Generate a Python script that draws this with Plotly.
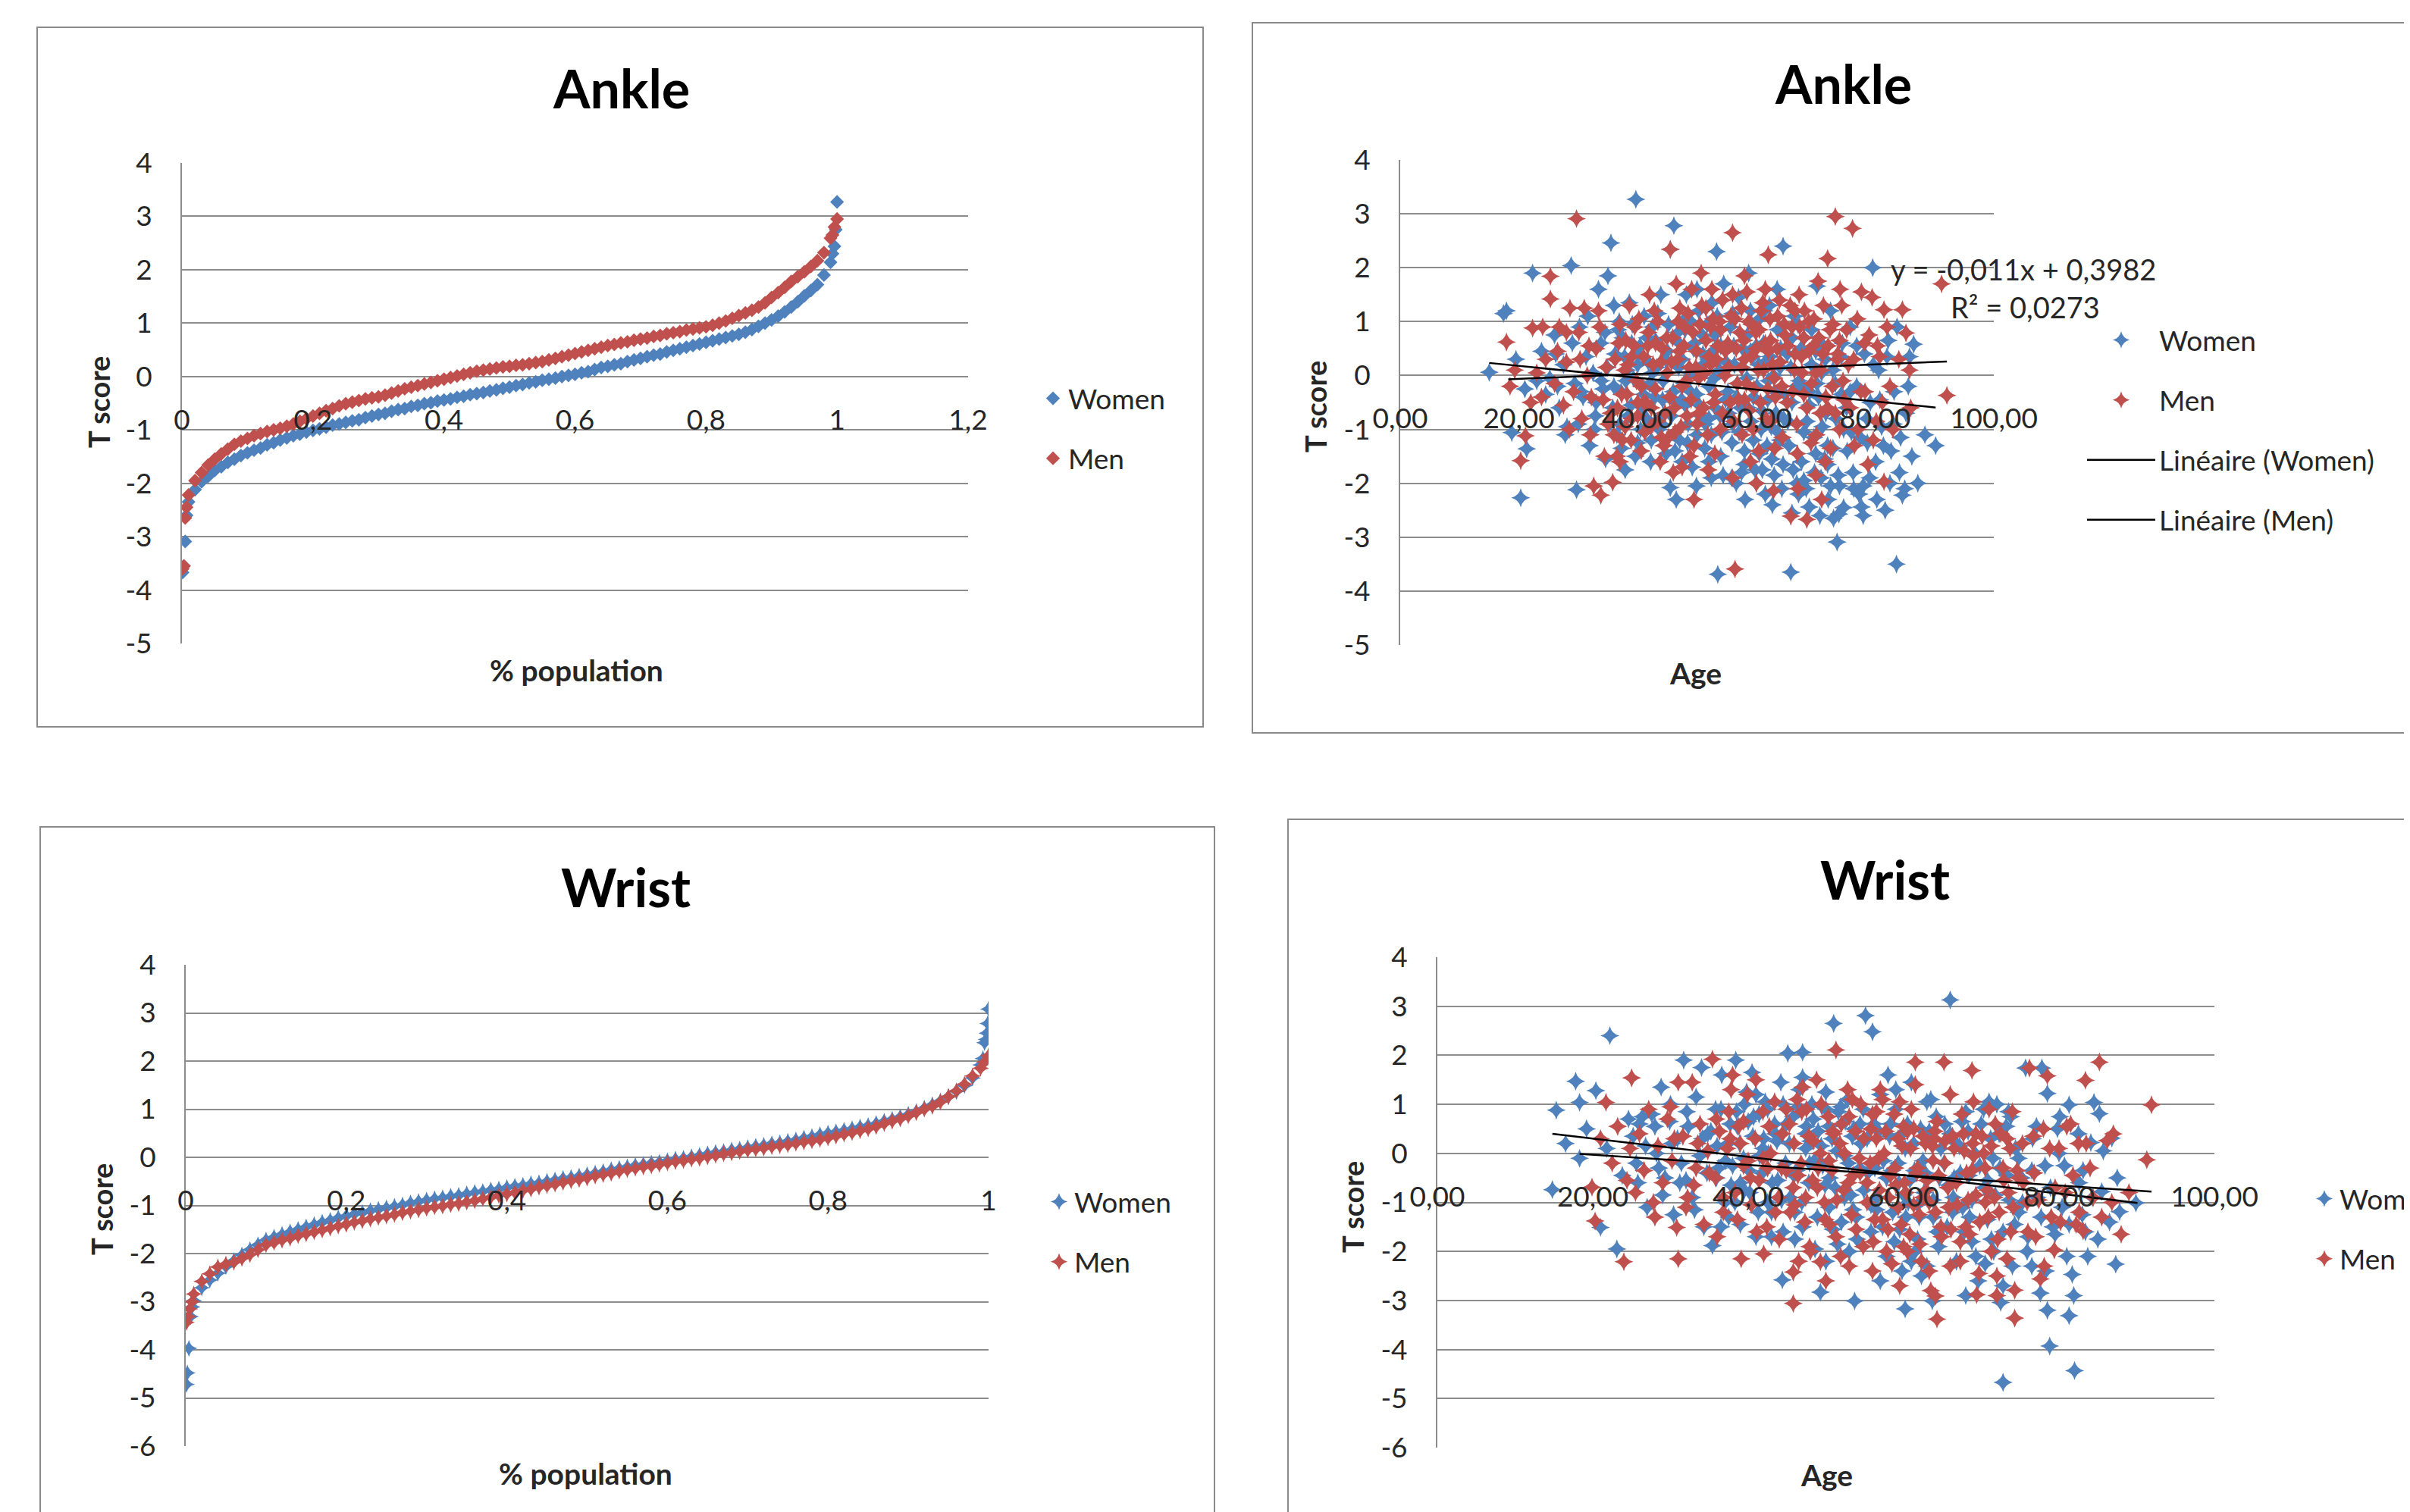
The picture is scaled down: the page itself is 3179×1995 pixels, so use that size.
import plotly.graph_objects as go

W, H = 3179, 1995
BLUE = "#4F81BD"
RED = "#C0504D"
GRID = "#8C8C8C"
TXT = "#262626"
FONT = "Lato, 'Open Sans', sans-serif"

# ---------------- data ----------------
LEGEND_NAMES = ["Women", "Men", "Linéaire (Women)", "Linéaire (Men)"]
TITLES = ["Ankle", "Ankle", "Wrist", "Wrist"]

# % population grid for the sorted-score curves
PCT = [0.01, 0.02, 0.03, 0.04, 0.05, 0.06, 0.07, 0.08, 0.09, 0.10,
       0.11, 0.12, 0.13, 0.14, 0.15, 0.16, 0.17, 0.18, 0.19, 0.20,
       0.21, 0.22, 0.23, 0.24, 0.25, 0.26, 0.27, 0.28, 0.29, 0.30,
       0.31, 0.32, 0.33, 0.34, 0.35, 0.36, 0.37, 0.38, 0.39, 0.40,
       0.41, 0.42, 0.43, 0.44, 0.45, 0.46, 0.47, 0.48, 0.49, 0.50,
       0.51, 0.52, 0.53, 0.54, 0.55, 0.56, 0.57, 0.58, 0.59, 0.60,
       0.61, 0.62, 0.63, 0.64, 0.65, 0.66, 0.67, 0.68, 0.69, 0.70,
       0.71, 0.72, 0.73, 0.74, 0.75, 0.76, 0.77, 0.78, 0.79, 0.80,
       0.81, 0.82, 0.83, 0.84, 0.85, 0.86, 0.87, 0.88, 0.89, 0.90,
       0.91, 0.92, 0.93, 0.94, 0.95, 0.96, 0.97, 0.98, 0.99]

# Ankle, sorted T scores (women)
ANKLE_W_LOW = [(0.001, -3.67), (0.003, -3.55), (0.005, -3.09), (0.007, -2.60)]
ANKLE_W_MID = [-2.35, -2.12, -1.97, -1.87, -1.76, -1.69, -1.61, -1.55, -1.48, -1.43,
               -1.38, -1.34, -1.28, -1.24, -1.19, -1.15, -1.11, -1.08, -1.04, -1.01,
               -0.98, -0.95, -0.91, -0.89, -0.86, -0.83, -0.81, -0.77, -0.74, -0.71,
               -0.69, -0.65, -0.62, -0.60, -0.56, -0.54, -0.51, -0.49, -0.46, -0.44,
               -0.42, -0.39, -0.37, -0.34, -0.32, -0.30, -0.27, -0.25, -0.22, -0.20,
               -0.17, -0.15, -0.12, -0.10, -0.07, -0.05, -0.03, 0.00, 0.02, 0.04,
               0.07, 0.09, 0.13, 0.17, 0.19, 0.22, 0.24, 0.28, 0.31, 0.34,
               0.37, 0.40, 0.42, 0.46, 0.49, 0.52, 0.55, 0.58, 0.61, 0.64,
               0.67, 0.70, 0.73, 0.76, 0.79, 0.83, 0.88, 0.94, 1.00, 1.06,
               1.13, 1.21, 1.30, 1.40, 1.51, 1.61, 1.72, 1.90, 2.14]
ANKLE_W_HIGH = [(0.993, 2.30), (0.996, 2.44), (0.998, 2.75), (1.0, 3.27)]

# Ankle, sorted T scores (men)
ANKLE_M_LOW = [(0.001, -3.60), (0.003, -3.55), (0.005, -2.65), (0.007, -2.45)]
ANKLE_M_MID = [-2.22, -1.95, -1.80, -1.66, -1.55, -1.45, -1.36, -1.27, -1.21, -1.16,
               -1.11, -1.07, -1.03, -1.00, -0.97, -0.93, -0.89, -0.84, -0.79, -0.74,
               -0.69, -0.64, -0.60, -0.55, -0.51, -0.48, -0.45, -0.42, -0.40, -0.38,
               -0.35, -0.31, -0.27, -0.23, -0.20, -0.17, -0.14, -0.11, -0.08, -0.05,
               -0.02, 0.01, 0.04, 0.07, 0.10, 0.12, 0.14, 0.16, 0.18, 0.19,
               0.21, 0.22, 0.24, 0.26, 0.28, 0.31, 0.34, 0.37, 0.40, 0.43,
               0.46, 0.49, 0.52, 0.55, 0.58, 0.60, 0.63, 0.65, 0.68, 0.70,
               0.72, 0.75, 0.77, 0.80, 0.82, 0.84, 0.87, 0.89, 0.91, 0.93,
               0.96, 1.00, 1.04, 1.09, 1.14, 1.19, 1.24, 1.30, 1.38, 1.48,
               1.57, 1.67, 1.78, 1.87, 1.96, 2.06, 2.17, 2.32, 2.59]
ANKLE_M_HIGH = [(0.993, 2.65), (0.996, 2.80), (1.0, 2.95)]

# Wrist, sorted T scores (women)
WRIST_W_LOW = [(0.001, -4.72), (0.002, -4.48), (0.004, -3.97), (0.006, -3.31), (0.008, -3.11)]
WRIST_W_MID = [-2.98, -2.71, -2.55, -2.41, -2.27, -2.15, -2.03, -1.92, -1.82, -1.72,
               -1.66, -1.60, -1.55, -1.50, -1.45, -1.40, -1.35, -1.31, -1.26, -1.22,
               -1.18, -1.15, -1.11, -1.08, -1.05, -1.02, -0.99, -0.95, -0.92, -0.89,
               -0.86, -0.84, -0.81, -0.79, -0.76, -0.73, -0.71, -0.68, -0.66, -0.63,
               -0.60, -0.58, -0.55, -0.53, -0.50, -0.47, -0.44, -0.42, -0.39, -0.36,
               -0.33, -0.30, -0.26, -0.23, -0.20, -0.17, -0.15, -0.12, -0.10, -0.07,
               -0.04, -0.02, 0.01, 0.04, 0.07, 0.10, 0.12, 0.15, 0.17, 0.20,
               0.23, 0.25, 0.28, 0.30, 0.33, 0.36, 0.40, 0.43, 0.47, 0.50,
               0.53, 0.56, 0.59, 0.63, 0.66, 0.70, 0.75, 0.79, 0.84, 0.89,
               0.95, 1.02, 1.09, 1.17, 1.26, 1.37, 1.49, 1.65, 1.92]
WRIST_W_HIGH = [(0.993, 2.05), (0.995, 2.38), (0.997, 2.45), (0.998, 2.58), (0.999, 2.78), (1.0, 3.08)]

# Wrist, sorted T scores (men)
WRIST_M_LOW = [(0.001, -3.43), (0.003, -3.31), (0.005, -3.15), (0.008, -3.00)]
WRIST_M_MID = [-2.84, -2.58, -2.42, -2.28, -2.22, -2.18, -2.10, -2.02, -1.92, -1.82,
               -1.77, -1.72, -1.68, -1.63, -1.59, -1.55, -1.51, -1.47, -1.43, -1.39,
               -1.35, -1.32, -1.28, -1.25, -1.22, -1.19, -1.15, -1.12, -1.09, -1.06,
               -1.03, -1.01, -0.98, -0.96, -0.93, -0.90, -0.86, -0.83, -0.79, -0.76,
               -0.73, -0.69, -0.66, -0.62, -0.59, -0.56, -0.52, -0.49, -0.46, -0.43,
               -0.39, -0.36, -0.33, -0.29, -0.26, -0.23, -0.20, -0.18, -0.15, -0.12,
               -0.09, -0.07, -0.04, -0.02, 0.01, 0.04, 0.07, 0.09, 0.12, 0.15,
               0.17, 0.19, 0.22, 0.24, 0.26, 0.29, 0.32, 0.34, 0.37, 0.40,
               0.44, 0.48, 0.51, 0.55, 0.59, 0.64, 0.70, 0.75, 0.80, 0.86,
               0.93, 1.00, 1.06, 1.15, 1.26, 1.38, 1.52, 1.69, 1.85]
WRIST_M_HIGH = [(0.995, 1.98), (1.0, 2.11)]

# Ankle T score vs age (age, T score)
ANKLE_AGE_W = [
    (15.0, 0.06), (17.4, 1.15), (17.9, 1.20), (18.8, -1.06), (19.5, 0.30), (20.3, -2.27), (21.0, -0.25),
    (21.3, -1.36), (22.3, 1.90), (23.0, -0.10), (23.8, 0.45), (24.5, -0.35),
    (25.2, -0.05), (26.0, 0.75), (26.8, -0.60), (27.5, 0.20), (28.1, -0.95), (28.8, 2.04), (29.4, -0.15),
    (29.7, -2.12), (30.2, 0.90), (30.8, -0.40), (31.3, 0.35), (31.9, -1.30), (32.5, 0.05), (32.9, -0.75),
    (33.4, 1.60), (33.8, 0.60), (34.2, -0.25), (34.6, -1.55), (35.0, 1.85), (35.5, 2.46), (34.9, 0.15),
    (26.5, -0.20), (30.0, -0.90), (33.0, -0.50),
    (35.8, -0.60), (36.2, 0.40), (36.5, -1.10), (36.9, 1.00), (37.2, -0.30), (37.5, 0.70), (37.9, -1.75),
    (38.2, 0.10), (38.6, 1.35), (38.9, -0.55), (39.3, -0.05), (39.7, 3.27), (40.0, -1.25), (40.4, 0.55),
    (40.8, -0.20), (41.1, 1.10), (41.5, -0.80), (41.8, 0.25), (42.2, -1.60), (42.5, 0.90), (42.9, -0.40),
    (43.2, 0.15), (43.6, -1.00), (43.9, 1.50), (44.3, -0.10), (44.6, -0.70), (45.0, 0.45), (45.5, 2.34),
    (44.8, -1.45), (39.0, 0.60), (37.0, -0.90), (41.0, -0.35), (43.0, 0.65), (36.0, 1.30), (40.0, 0.20),
    (42.0, -0.15),
    (45.5, -2.08), (46.1, 2.78), (46.4, -0.50), (46.8, 0.80), (47.1, -1.20), (47.5, 0.30), (47.8, -0.15),
    (48.2, 1.50), (48.5, -0.90), (48.9, 0.05), (49.2, -1.70), (49.6, 0.60), (49.9, -0.35), (50.3, 1.20),
    (50.6, -0.75), (51.0, 0.20), (51.3, -1.35), (51.7, 0.95), (52.0, -0.20), (52.4, -1.90), (52.7, 0.45),
    (53.1, -0.60), (53.3, 2.30), (53.5, -3.69), (53.8, 0.10), (54.2, -1.05), (54.5, 1.70), (54.8, -0.45),
    (46.0, -0.30), (47.0, 0.60), (48.0, -0.55), (49.0, 1.00), (50.0, -1.10), (51.0, 0.40), (52.0, -0.80),
    (53.0, 0.75), (54.0, -1.50), (50.5, 0.00), (47.5, -1.60), (52.5, 1.35),
    (55.2, -0.30), (55.6, 0.90), (55.9, -1.25), (56.3, 0.20), (56.6, -2.00), (57.0, 1.45), (57.3, -0.60),
    (57.7, 0.50), (58.0, -1.40), (58.4, -0.05), (58.7, 1.90), (59.1, -0.85), (59.4, 0.35), (59.8, -1.75),
    (60.1, -0.20), (60.5, 1.05), (60.8, -1.00), (61.2, 0.60), (61.5, -2.20), (61.9, -0.45), (62.2, 1.30),
    (62.6, -1.55), (62.9, 0.00), (63.3, -0.70), (63.6, 0.85), (64.0, -1.20), (64.5, 2.40), (64.3, -2.10),
    (64.8, -0.35), (56.0, -0.90), (57.5, -1.80), (58.5, 0.75), (59.5, -0.40), (60.5, -1.45), (61.5, 0.25),
    (62.5, -0.95), (63.5, 1.60), (64.5, -1.65), (60.0, 0.55), (56.8, -0.15),
    (65.2, 0.40), (65.8, -3.65), (65.5, -1.30), (66.0, -0.50), (66.4, 1.10), (66.8, -2.00), (67.2, -0.10),
    (67.6, -1.60), (68.0, 0.70), (68.5, -0.85), (68.9, -2.44), (69.3, 0.20), (69.7, -1.15), (70.2, 1.66),
    (70.5, -0.40), (70.9, -1.90), (71.3, 0.55), (71.7, -0.70), (72.1, -2.30), (72.5, 1.20), (72.9, -1.35),
    (73.3, -0.15), (73.6, -3.09), (73.9, -2.57), (74.3, 0.35), (74.7, -1.00), (66.0, -2.55), (67.0, 0.95),
    (68.0, -1.95), (69.0, -0.30), (70.0, -1.45), (71.0, 0.05), (72.0, -1.65), (74.0, -2.05),
    (75.2, -0.60), (75.8, 0.90), (76.3, -1.80), (76.9, -0.20), (77.3, -2.20), (77.7, -2.44), (78.2, 0.40),
    (78.7, -1.25), (79.2, -0.50), (79.6, 2.00), (80.1, -1.60), (80.6, 0.10), (81.1, -0.95), (81.7, -2.50),
    (82.2, 0.65), (82.7, -1.40), (83.2, -0.30), (83.6, -3.50), (84.1, -1.80), (84.6, -2.22), (76.0, -1.05),
    (78.0, -2.05),
    (85.2, -0.70), (85.8, 0.35), (86.5, 0.58), (87.2, -2.00), (88.4, -1.10), (90.2, -1.30)]
ANKLE_AGE_W_MORE = [
    (26.2, 0.40), (27.8, -1.10), (29.0, 0.60), (30.5, -0.30), (31.6, 1.10), (32.7, -1.00), (33.9, -0.10),
    (34.5, 0.80),
    (35.3, -0.90), (36.0, -0.20), (36.7, 0.85), (37.3, -1.35), (37.8, 0.35), (38.4, -0.75), (39.1, 0.95),
    (39.6, -1.50), (40.2, 0.40), (40.9, -0.60), (41.6, 0.70), (42.3, -1.20), (42.8, -0.25), (43.4, 1.15),
    (44.0, -0.90), (44.7, 0.30), (38.0, -0.10), (40.5, -1.00), (42.5, 0.05), (44.2, -0.45),
    (45.2, 0.95), (45.7, -0.75), (46.3, -1.40), (46.9, 0.15), (47.4, -0.45), (47.9, 1.05), (48.4, -1.25),
    (48.9, -0.30), (49.4, 0.50), (49.9, -2.05), (50.4, -0.55), (50.9, 0.75), (51.4, -0.90), (51.9, 0.30),
    (52.4, -1.10), (52.9, -0.05), (53.4, 1.10), (53.9, -0.75), (54.4, -1.85), (54.9, 0.25), (46.5, -2.30),
    (48.0, 0.85), (50.0, 1.60), (52.0, -1.60), (54.0, 0.55),
    (55.3, -0.70), (55.8, -1.90), (56.2, 0.55), (56.7, -0.40), (57.1, -1.05), (57.6, 0.15), (58.1, -2.30),
    (58.6, -0.60), (59.0, 0.45), (59.5, -1.20), (60.0, -2.00), (60.4, 0.20), (60.9, -0.65), (61.3, 1.20),
    (61.8, -1.30), (62.3, 0.35), (62.7, -2.40), (63.1, -0.30), (63.6, -1.05), (64.1, 0.50), (64.6, -0.80),
    (56.0, 1.15), (58.0, -1.65), (59.0, 1.20), (61.0, -1.75), (62.0, -0.10), (63.0, -1.85), (64.0, 0.15),
    (65.3, -0.85), (65.8, 0.15), (66.2, -1.75), (66.7, -0.20), (67.1, -2.20), (67.5, 0.50), (68.0, -1.05),
    (68.4, -2.10), (68.9, -0.55), (69.3, 0.85), (69.8, -1.80), (70.2, -0.15), (70.7, -2.60), (71.1, -0.95),
    (71.6, 0.30), (72.0, -1.30), (72.5, -2.05), (72.9, 0.10), (73.4, -0.80), (73.8, -1.85), (74.3, -0.35),
    (74.7, -2.45), (66.0, 0.70), (68.0, -0.25), (70.0, 0.45), (71.5, -1.55), (73.0, -2.65), (74.5, 0.60),
    (75.3, -1.40), (75.8, -0.30), (76.4, -2.10), (76.9, 0.55), (77.5, -1.15), (78.0, -2.60), (78.6, -0.80),
    (79.1, -1.90), (79.7, 0.20), (80.3, -2.30), (80.8, -0.45), (81.4, -1.30), (82.0, 0.35), (82.5, -2.00),
    (83.1, -0.90), (83.7, 0.90), (84.3, -1.15), (85.0, -2.10), (85.6, -0.20), (86.2, -1.50)]

ANKLE_AGE_M = [
    (17.9, 0.62), (18.5, -0.20), (19.3, 0.10), (20.3, -1.58), (21.1, -1.12), (22.3, 0.88), (23.0, 0.05),
    (23.8, -0.40), (24.5, 0.30), (25.3, 1.84),
    (25.3, 1.42), (26.0, -0.15), (26.8, 0.90), (27.5, -0.55), (28.0, 0.25), (28.6, 1.25), (29.2, -0.30),
    (29.7, 2.91), (30.1, 0.80), (30.6, -0.80), (31.0, 1.25), (31.5, 0.00), (32.0, -1.10), (32.6, -2.05),
    (33.0, 0.50), (33.4, 1.20), (33.8, -2.22), (34.2, -0.45), (34.7, 0.15), (35.0, -0.90), (28.0, 0.80),
    (31.8, 0.55),
    (35.8, -1.98), (36.2, 0.30), (36.6, -0.60), (37.0, 0.95), (37.4, -1.20), (37.8, 0.10), (38.2, -0.35),
    (38.6, 1.30), (39.0, -0.80), (39.4, 0.55), (39.8, -0.10), (40.2, 1.05), (40.6, -1.40), (41.0, 0.35),
    (41.4, -0.50), (41.8, 0.80), (42.2, -0.95), (42.6, 0.20), (43.0, -0.25), (43.4, 1.00), (43.8, -1.60),
    (44.2, 0.50), (44.6, -0.70), (45.0, 0.05), (45.5, 2.34), (36.5, -1.50), (38.0, 0.65), (40.0, -0.50),
    (42.0, 1.50), (44.0, -1.15),
    (45.4, -0.40), (45.9, 0.70), (46.3, -1.05), (46.7, 0.30), (47.1, 1.25), (47.5, -0.20), (47.9, 0.90),
    (48.3, -0.75), (48.7, 0.15), (49.1, 1.60), (49.5, -1.30), (49.9, 0.45), (50.3, -0.05), (50.7, 1.90),
    (51.1, -0.60), (51.5, 0.65), (51.9, -1.75), (52.3, 0.20), (52.7, 1.05), (53.1, -0.35), (53.5, 0.55),
    (53.9, -1.00), (54.3, 1.40), (54.7, 0.00), (46.0, -1.80), (47.0, 0.45), (48.5, 1.15), (50.0, -0.90),
    (51.5, 1.25), (53.0, -1.45), (54.0, 0.85), (49.0, -0.45), (52.0, 0.35), (50.5, 0.95),
    (55.2, 0.60), (55.6, -0.50), (56.0, 2.65), (56.4, -3.59), (56.4, 1.05), (56.8, -0.15), (57.2, 0.80),
    (57.6, -1.10), (58.0, 0.30), (58.4, 1.55), (58.8, -0.65), (59.2, 0.95), (59.6, -0.25), (60.0, 0.50),
    (60.4, -1.40), (60.8, 1.20), (61.2, 0.10), (61.6, -0.80), (62.0, 2.24), (62.4, 0.65), (62.9, -2.14),
    (63.2, -0.40), (63.6, 1.10), (64.0, 0.25), (64.4, -1.15), (64.8, 0.75), (56.0, 1.50), (57.5, 0.15),
    (59.0, -1.60), (60.5, 0.85), (61.5, 1.60), (63.0, -0.05), (58.0, -0.45), (62.0, 0.45),
    (65.2, -0.50), (65.8, -2.61), (66.0, 0.90), (66.4, 0.10), (66.8, -0.90), (67.2, 1.50), (67.6, 0.35),
    (68.0, -0.35), (68.5, -2.67), (68.8, 1.00), (69.2, -1.25), (69.6, 0.55), (70.0, 0.05), (70.4, 1.75),
    (70.8, -0.70), (71.2, 0.40), (71.6, -1.60), (72.0, 2.17), (72.4, 0.85), (72.8, -0.20), (73.3, 2.95),
    (73.6, 0.30), (74.0, -1.00), (74.4, 1.30), (74.8, -0.45), (66.5, 1.20), (68.0, 0.70), (70.0, -1.85),
    (72.0, -0.60), (74.0, 0.65),
    (75.5, 0.20), (76.2, 2.73), (76.5, -1.30), (77.0, 1.05), (77.6, -0.30), (78.2, 0.60), (78.8, -1.65),
    (79.5, 1.45), (80.2, -0.85), (80.8, 0.35), (81.5, -1.97), (81.5, 1.22), (82.5, -0.20), (84.6, 1.22),
    (85.2, 0.79), (85.8, 0.10), (91.2, 1.70), (92.1, -0.37)]
ANKLE_AGE_M_MORE = [
    (22.0, -0.50), (24.0, 0.90), (26.5, 0.45), (28.5, -1.00), (30.3, 0.30), (32.2, -0.40), (33.6, 0.90),
    (34.4, -1.50),
    (35.5, -0.70), (36.0, -1.10), (36.8, 0.60), (37.3, -0.35), (37.9, -0.95), (38.4, 0.20), (38.9, -1.20),
    (39.5, 0.90), (40.0, -0.75), (40.6, -0.20), (41.2, -1.05), (41.7, 0.55), (42.3, -0.60), (42.8, 1.20),
    (43.3, -0.85), (43.9, 0.25), (44.4, -1.30), (44.9, 0.70), (37.0, -1.60), (39.0, 0.35), (41.0, -0.50),
    (43.0, 0.60),
    (45.2, -1.15), (45.7, 0.25), (46.2, -0.60), (46.8, 1.00), (47.3, -0.95), (47.8, 0.55), (48.2, -0.10),
    (48.8, -1.50), (49.3, 0.80), (49.8, 0.15), (50.3, -0.70), (50.8, 1.30), (51.3, 0.05), (51.8, -1.10),
    (52.3, 0.90), (52.8, -0.50), (53.3, 0.30), (53.8, 1.00), (54.3, -0.70), (54.8, 0.45), (46.5, 1.70),
    (49.5, -2.30), (52.5, 1.60), (47.5, -1.70),
    (55.3, 0.15), (55.7, 1.10), (56.2, -0.85), (56.6, 0.50), (57.0, -0.45), (57.5, 1.25), (57.9, 0.65),
    (58.3, -0.15), (58.7, 1.00), (59.1, 0.35), (59.5, -1.00), (59.9, 0.80), (60.3, 0.10), (60.7, -0.50),
    (61.1, 1.35), (61.5, 0.60), (61.9, -0.25), (62.3, 1.05), (62.7, 0.20), (63.1, -1.35), (63.5, 0.50),
    (63.9, 1.40), (64.3, -0.20), (64.7, 0.95), (56.0, -1.90), (58.0, 1.85), (60.0, -2.00), (62.5, -0.85),
    (65.3, 0.55), (65.7, 1.30), (66.1, -0.30), (66.5, 0.40), (66.9, -1.45), (67.3, 0.90), (67.7, 0.05),
    (68.1, 1.20), (68.5, -0.60), (68.9, 0.45), (69.3, -0.15), (69.7, 1.05), (70.1, -1.10), (70.5, 0.70),
    (70.9, 0.10), (71.3, 1.30), (71.7, -0.40), (72.1, 0.55), (72.5, -1.35), (72.9, 0.95), (73.3, -0.70),
    (73.7, 0.40), (74.1, 1.60), (74.6, -0.10), (67.0, -2.10), (71.0, -2.30),
    (75.2, 0.85), (75.8, -0.60), (76.4, 0.30), (77.1, -1.00), (77.7, 1.55), (78.3, -0.30), (79.0, 0.75),
    (79.7, -1.20), (80.4, 0.55), (81.2, -0.50), (82.0, 0.90), (83.0, -1.00), (84.0, 0.30), (86.0, -0.60)]

# Wrist T score vs age (age, T score)
WRIST_AGE_W = [
    (14.8, -0.74), (15.3, 0.88), (16.5, 0.20), (17.8, 1.47), (18.3, 1.04), (18.3, -0.10), (19.2, 0.50),
    (20.4, 1.28), (21.0, -1.51), (21.8, 0.10), (22.2, 2.40), (23.1, -1.95), (23.8, -0.45), (24.6, 0.70),
    (25.2, 0.35), (25.8, -0.60), (26.4, 0.75), (27.0, -1.10), (27.6, 0.80), (28.2, 0.00), (28.8, 1.35),
    (29.3, -0.50), (29.9, 0.65), (30.4, -1.25), (30.9, 0.30), (31.4, -0.20), (31.7, 1.90), (32.3, 0.55),
    (32.8, -0.90), (33.3, 1.15), (33.8, -0.05), (34.3, -1.50), (34.8, 0.40), (26.0, 0.60), (28.5, -0.30),
    (30.0, 1.00), (32.0, -0.55), (34.0, 1.75),
    (35.4, -1.88), (35.8, 0.90), (36.2, -0.30), (36.6, 1.60), (37.0, -1.00), (37.4, 0.20), (37.8, -0.65),
    (38.4, 1.90), (38.6, 0.55), (39.0, -1.45), (39.4, -0.10), (39.8, 1.25), (40.2, -0.80), (40.6, 0.35),
    (41.0, -1.70), (41.4, 0.80), (41.8, -0.40), (42.2, 1.05), (42.6, 0.00), (43.0, -1.20), (43.4, 0.60),
    (43.8, -0.55), (44.2, 1.45), (44.4, -2.58), (44.8, -0.20), (45.1, 2.04), (36.0, 0.15), (37.5, -1.30),
    (38.5, 0.85), (39.5, -0.75), (40.5, 1.65), (41.5, -0.05), (42.5, -1.00), (43.5, 0.40), (44.5, -1.60),
    (40.0, 0.65), (42.0, 0.30), (38.0, -0.25),
    (45.4, -0.90), (45.8, 0.75), (46.2, -0.35), (46.6, 1.30), (47.0, 2.06), (47.0, -1.50), (47.4, 0.10),
    (47.8, -0.60), (48.2, 1.00), (48.6, -1.95), (49.0, 0.45), (49.3, -2.83), (49.6, -0.25), (50.0, 1.25),
    (50.4, -1.10), (50.8, 0.30), (51.0, 2.65), (51.2, -0.70), (51.6, 0.85), (52.0, -1.40), (52.4, -0.05),
    (52.8, 1.10), (53.2, -0.85), (53.7, -3.01), (53.6, 0.50), (54.0, -1.75), (54.4, -0.30), (54.8, 0.90),
    (55.1, 2.81), (46.0, -1.20), (47.5, 0.55), (48.5, -0.15), (49.5, 0.95), (50.5, -0.50), (51.5, -1.85),
    (52.5, 0.65), (53.5, -1.15), (54.5, 0.20), (50.0, -2.20), (48.0, 0.25),
    (55.4, -0.40), (55.8, -1.60), (56.0, 2.48), (56.2, 0.60), (56.6, -0.90), (57.0, 1.20), (57.4, -0.15),
    (57.8, -2.10), (58.2, 0.35), (58.6, -1.20), (59.0, 0.90), (59.4, -0.60), (59.8, -2.40), (60.2, -3.17),
    (60.2, 0.10), (60.6, -1.00), (61.0, 1.45), (61.4, -0.35), (61.8, -1.75), (62.2, 0.50), (62.6, -0.80),
    (63.0, -2.30), (63.4, 0.25), (63.7, -3.01), (63.8, -1.30), (64.2, 0.75), (64.6, -0.50), (56.5, -1.15),
    (58.0, 1.60), (59.5, -1.55), (60.5, 0.60), (61.5, -2.00), (62.5, -0.15), (63.5, 1.10), (64.5, -1.90),
    (58.5, -0.35), (60.0, -0.85), (62.0, -1.30),
    (65.2, -0.20), (65.6, -1.50), (66.0, 3.13), (66.0, 0.40), (66.4, -0.90), (66.8, -2.20), (67.2, 0.15),
    (67.6, -1.10), (68.0, 0.85), (68.4, -0.45), (68.8, -1.80), (69.2, 0.00), (69.6, -2.60), (70.0, 0.60),
    (70.4, -0.70), (70.8, -1.35), (71.2, 0.30), (71.6, -2.00), (72.0, 1.00), (72.5, -3.04), (72.8, -4.67),
    (72.4, -0.30), (72.8, -1.60), (73.2, 0.55), (73.6, -0.95), (74.0, -2.30), (74.4, 0.10), (74.8, -1.20),
    (66.5, -0.50), (68.5, -1.30), (70.5, -2.25), (71.5, -0.10), (73.5, 0.85), (67.5, 0.65),
    (75.2, -0.50), (75.7, 1.74), (76.0, -1.70), (76.6, 0.30), (77.2, -0.90), (77.6, -2.85), (77.8, 1.74),
    (78.2, -0.25), (78.5, -3.20), (78.5, 1.22), (78.8, -3.93), (79.2, -1.50), (79.8, 0.50), (80.4, -1.10),
    (81.0, -2.10), (81.3, -3.31), (81.3, 0.99), (81.7, -2.47), (82.0, -4.43), (82.6, -0.60), (83.4, -1.60),
    (84.1, 0.22), (84.5, 1.04), (85.2, 0.81), (85.5, -0.78), (86.8, 0.31), (87.3, -2.26), (87.8, -1.19),
    (89.9, -1.01), (76.5, -2.30), (80.0, 0.00), (83.0, -1.25)]
WRIST_AGE_W_MORE = [
    (25.6, -0.20), (26.8, 0.15), (28.0, 0.55), (29.0, -0.85), (30.2, 0.20), (31.2, -0.60), (32.1, 0.85),
    (33.1, -1.15), (34.1, 0.30), (34.7, -0.40),
    (35.2, 0.45), (35.9, -0.50), (36.5, 0.90), (37.1, -0.15), (37.7, 0.60), (38.3, -1.00), (38.9, 0.20),
    (39.5, 1.00), (40.1, -0.35), (40.7, 0.75), (41.3, -1.20), (41.9, 0.10), (42.5, 0.90), (43.1, -0.60),
    (43.7, 0.25), (44.3, -0.95), (44.9, 0.60), (36.5, -1.50), (39.0, -0.60), (41.0, 1.20), (43.0, -1.70),
    (44.5, 1.00),
    (45.3, 0.20), (45.9, -0.45), (46.4, 0.95), (46.9, -1.00), (47.4, 0.40), (47.9, -0.20), (48.4, 0.70),
    (48.9, -1.30), (49.4, 0.15), (49.9, -0.65), (50.4, 0.55), (50.9, -1.55), (51.4, 0.05), (51.9, 0.95),
    (52.4, -0.90), (52.9, -0.20), (53.4, 0.35), (53.9, -1.30), (54.4, 0.60), (54.9, -0.75), (47.0, 1.55),
    (50.0, 0.90), (53.0, -2.00), (46.0, -1.75),
    (55.3, 0.30), (55.8, -1.05), (56.3, -0.30), (56.8, 0.45), (57.3, -1.50), (57.8, -0.50), (58.3, 0.60),
    (58.8, -1.80), (59.3, -0.20), (59.8, 0.40), (60.3, -1.30), (60.8, -0.55), (61.3, 0.20), (61.8, -1.05),
    (62.3, -2.50), (62.8, -0.40), (63.3, 0.45), (63.8, -0.95), (64.3, -1.60), (64.8, 0.10), (57.0, -2.60),
    (59.0, 1.30), (61.0, -2.20), (63.0, 1.05),
    (65.3, 0.60), (65.8, -0.65), (66.3, -1.20), (66.8, 0.20), (67.3, -0.40), (67.8, -1.60), (68.3, 0.45),
    (68.8, -0.95), (69.3, -2.10), (69.8, -0.25), (70.3, 0.90), (70.8, -0.55), (71.3, -1.75), (71.8, -0.85),
    (72.3, 0.40), (72.8, -2.70), (73.3, -0.45), (73.8, 0.75), (74.3, -1.45), (74.8, -0.10), (68.0, -2.90),
    (71.0, 1.05),
    (75.3, -1.00), (75.9, -2.00), (76.5, -0.35), (77.1, 0.55), (77.7, -1.30), (78.3, -2.40), (78.9, -0.70),
    (79.5, -1.65), (80.1, 0.75), (80.7, -0.25), (81.3, -1.45), (81.9, -2.90), (82.5, 0.40), (83.1, -0.35),
    (83.7, -2.10), (84.3, -0.90), (85.0, -1.75), (85.7, 0.05), (86.5, -1.40), (87.5, -0.50)]

WRIST_AGE_M = [
    (19.9, -0.69), (20.3, -1.38), (21.0, 0.30), (21.7, 1.04), (22.5, -0.20), (23.2, 0.55), (24.0, -2.21),
    (24.4, -0.55), (25.0, 1.54), (24.8, 0.10),
    (25.5, -0.80), (26.0, 0.40), (26.6, -0.35), (27.2, 0.90), (27.8, -1.00), (28.4, 0.15), (29.0, -0.60),
    (29.6, 0.70), (30.2, -0.15), (30.8, -1.51), (31.0, 1.45), (31.0, -2.15), (31.6, 0.35), (32.2, -0.90),
    (32.8, 1.45), (33.3, -0.30), (33.8, 0.60), (34.3, -1.45), (34.8, 0.05), (28.0, -1.30), (30.0, 0.95),
    (33.0, -0.65),
    (35.4, 1.92), (35.8, -0.50), (36.3, 0.45), (36.8, -1.20), (37.3, 0.10), (37.8, 1.30), (38.3, -0.80),
    (38.8, 0.55), (39.1, -2.15), (39.4, -0.25), (39.9, 1.20), (40.4, -1.05), (40.9, 0.30), (41.4, -0.55),
    (41.9, 0.85), (42.4, -1.50), (42.9, 0.00), (43.4, 1.05), (43.9, -0.90), (44.4, 0.40), (44.9, -0.35),
    (45.8, -2.42), (45.8, -3.06), (36.0, -1.70), (37.5, 0.85), (39.0, 0.20), (41.0, 1.50), (42.5, -0.30),
    (44.0, -1.75), (40.0, -0.15),
    (45.3, 0.60), (45.8, -0.70), (46.3, 1.10), (46.8, -0.20), (47.3, -1.40), (47.8, 0.35), (48.3, -0.55),
    (48.8, 1.50), (49.3, -2.21), (49.3, 0.00), (49.8, -1.00), (50.3, 0.75), (50.8, -0.35), (51.3, 2.11),
    (51.3, -1.70), (51.8, 0.20), (52.3, -0.75), (52.8, 1.30), (53.3, -1.25), (53.8, 0.45), (54.3, -0.10),
    (54.8, -1.90), (46.0, -1.05), (47.5, 0.90), (49.0, -0.30), (50.5, -1.45), (52.0, 0.60), (53.5, -0.45),
    (54.5, 1.00), (48.0, -2.00), (51.0, 0.40), (53.0, -2.30),
    (55.3, -0.60), (55.8, 0.50), (56.3, -1.35), (56.8, -0.10), (57.3, 1.10), (57.8, -2.00), (58.3, -0.45),
    (58.8, 0.80), (59.3, -1.10), (59.5, -2.70), (59.8, 0.15), (60.3, -0.80), (60.8, -1.65), (61.3, 0.50),
    (61.5, 1.86), (61.8, -0.30), (62.3, -2.20), (62.8, 0.20), (63.3, -1.00), (63.8, -0.15), (64.1, -2.91),
    (64.3, -3.38), (64.3, 0.65), (64.8, -1.50), (56.0, -2.40), (57.5, 0.00), (59.0, -0.65), (60.0, -1.90),
    (61.0, 0.90), (62.0, -1.25), (63.0, -0.55), (64.0, 0.30), (58.0, -1.55), (60.5, 0.45), (62.5, -0.90),
    (56.5, 0.85),
    (65.2, 1.86), (65.3, -0.20), (65.8, -1.10), (66.3, 0.35), (66.8, -0.60), (67.3, -1.80), (67.8, 0.05),
    (68.3, -0.95), (68.8, 1.69), (68.8, -0.35), (69.4, -2.88), (69.3, 0.40), (69.8, -1.40), (70.3, 0.00),
    (70.8, -0.75), (71.3, -2.00), (71.8, 0.60), (72.3, -1.20), (72.8, -0.30), (73.3, 0.30), (73.8, -1.60),
    (74.3, -3.36), (74.3, -2.79), (74.8, -0.50), (66.0, -2.30), (67.5, 0.80), (69.0, -0.05), (70.5, -1.00),
    (72.0, -2.50), (73.5, -0.80), (71.0, 0.90), (68.0, -1.50),
    (75.3, 0.20), (75.9, -1.00), (76.2, 1.74), (76.8, -0.40), (77.6, -2.56), (78.0, 0.50), (78.5, 1.58),
    (79.0, -1.30), (79.4, -1.97), (80.0, 0.10), (80.8, -0.80), (81.5, 0.60), (82.2, -1.45), (83.1, -1.58),
    (83.4, 1.49), (84.0, -0.30), (85.2, 1.86), (86.2, 0.26), (86.8, -1.00), (88.0, -1.65), (91.3, -0.13),
    (91.9, 0.99), (77.0, -1.70), (82.5, 0.20)]
WRIST_AGE_M_MORE = [
    (30.5, 0.30), (32.0, -1.10), (33.5, 0.20), (35.0, -0.40), (35.9, 0.70), (36.8, -0.90), (37.7, 0.30),
    (38.6, -1.35), (39.4, 0.65), (40.3, -0.50), (41.1, -1.60), (41.9, -0.10), (42.7, 0.55), (43.5, -1.20),
    (44.3, -0.30), (44.9, 0.90), (38.0, 1.60), (42.0, -2.05),
    (45.4, -1.20), (45.9, 0.20), (46.4, -0.45), (46.9, 0.85), (47.4, -0.90), (47.9, -1.90), (48.4, 0.25),
    (48.9, -0.70), (49.4, 1.00), (49.9, -1.35), (50.4, -0.15), (50.9, 0.45), (51.4, -0.95), (51.9, -2.10),
    (52.4, 0.00), (52.9, -0.60), (53.4, 1.10), (53.9, -1.55), (54.4, -0.40), (54.9, 0.30), (47.0, 1.35),
    (50.0, -2.60), (53.0, 0.75), (46.5, -2.20),
    (55.3, -1.00), (55.7, -0.20), (56.1, -1.80), (56.5, 0.30), (56.9, -0.75), (57.3, -1.35), (57.7, 0.45),
    (58.1, -0.90), (58.5, -2.25), (58.9, -0.30), (59.3, 0.30), (59.7, -1.45), (60.1, -0.60), (60.5, -2.00),
    (60.9, 0.10), (61.3, -1.05), (61.7, -0.40), (62.1, -1.85), (62.5, 0.35), (62.9, -0.75), (63.3, -2.40),
    (63.7, 0.15), (64.1, -1.20), (64.5, -0.45), (64.9, -1.70), (57.0, 1.30), (59.5, 1.05), (61.5, 1.40),
    (63.5, -2.80), (56.0, 0.80), (60.0, 0.55), (64.0, 0.45),
    (65.3, 0.25), (65.7, -0.70), (66.1, -1.55), (66.5, 0.10), (66.9, -1.05), (67.3, -2.20), (67.7, 0.40),
    (68.1, -0.40), (68.5, -1.65), (68.9, 0.20), (69.3, -0.85), (69.7, -2.45), (70.1, 0.35), (70.5, -0.30),
    (70.9, -1.30), (71.3, 0.15), (71.7, -0.90), (72.1, -1.75), (72.5, 0.40), (72.9, -0.55), (73.3, -2.15),
    (73.7, 0.10), (74.1, -1.10), (74.6, -0.35), (66.0, 1.20), (69.0, 1.05), (72.0, -2.90), (74.0, 0.85),
    (75.4, -0.60), (76.0, -1.60), (76.7, 0.35), (77.4, -0.95), (78.1, -2.30), (78.8, 0.10), (79.5, -0.70),
    (80.2, -1.40), (81.0, 0.55), (81.8, -0.45), (82.6, -1.20), (83.5, 0.20), (84.4, -0.90), (85.5, -1.30),
    (87.0, 0.40), (89.0, -0.80)]

# Linear trend lines (end points over the age span of each series)
ANKLE_TREND_W_X = [15.0, 90.2]
ANKLE_TREND_W_Y = [0.233, -0.594]
ANKLE_TREND_M_X = [18.2, 92.1]
ANKLE_TREND_M_Y = [-0.07, 0.26]
WRIST_TREND_W_X = [14.8, 90.1]
WRIST_TREND_W_Y = [0.40, -1.01]
WRIST_TREND_M_X = [18.3, 91.9]
WRIST_TREND_M_Y = [-0.01, -0.78]
EQUATION = "y = -0,011x + 0,3982"
R2_TEXT = "R² = 0,0273"

# tick labels
PCT_TICKS_A = [0, 0.2, 0.4, 0.6, 0.8, 1.0, 1.2]
PCT_LABELS_A = ["0", "0,2", "0,4", "0,6", "0,8", "1", "1,2"]
PCT_TICKS_W = [0, 0.2, 0.4, 0.6, 0.8, 1.0]
PCT_LABELS_W = ["0", "0,2", "0,4", "0,6", "0,8", "1"]
AGE_TICKS = [0, 20, 40, 60, 80, 100]
AGE_LABELS = ["0,00", "20,00", "40,00", "60,00", "80,00", "100,00"]
T_TICKS_A = [4, 3, 2, 1, 0, -1, -2, -3, -4, -5]
T_LABELS_A = ["4", "3", "2", "1", "0", "-1", "-2", "-3", "-4", "-5"]
T_TICKS_W = [4, 3, 2, 1, 0, -1, -2, -3, -4, -5, -6]
T_LABELS_W = ["4", "3", "2", "1", "0", "-1", "-2", "-3", "-4", "-5", "-6"]


def curve(low, mid, high):
    xs = [p for p, _ in low] + PCT + [p for p, _ in high]
    ys = [v for _, v in low] + mid + [v for _, v in high]
    return xs, ys


def split(*groups):
    pairs = [pt for g in groups for pt in g]
    return [a for a, _ in pairs], [t for _, t in pairs]


# ---------------- layout helpers (page pixel -> paper) ----------------
PAGE_OFFSET = 8  # the page body margin shifts the figure by this many pixels


def fx(p):
    return (p - PAGE_OFFSET) / W


def fy(p):
    return 1 - (p - PAGE_OFFSET) / H


# panel geometry in page pixels: plot x0, x1, y_top, y_bottom
PANELS = {
    1: dict(px=(240, 1277), py=(215, 849), xr=[0, 1.2], yr=[-5, 4]),
    2: dict(px=(1847, 2630), py=(211, 851), xr=[0, 100], yr=[-5, 4]),
    3: dict(px=(245, 1304), py=(1273, 1908), xr=[0, 1.0], yr=[-6, 4]),
    4: dict(px=(1896, 2921), py=(1263, 1910), xr=[0, 100], yr=[-6, 4]),
}

fig = go.Figure()

tick_font = dict(family=FONT, size=37, color=TXT)
TREND_LINE = dict(color="black", width=2.5)
SCATTER_SIZE = 18

# --- Ankle sorted ---
xw, yw = curve(ANKLE_W_LOW, ANKLE_W_MID, ANKLE_W_HIGH)
xm, ym = curve(ANKLE_M_LOW, ANKLE_M_MID, ANKLE_M_HIGH)
fig.add_trace(go.Scatter(x=xw, y=yw, mode="markers", name=LEGEND_NAMES[0], xaxis="x", yaxis="y",
                         marker=dict(symbol="diamond", size=14, color=BLUE), legend="legend",
                         legendgroup="a1"))
fig.add_trace(go.Scatter(x=xm, y=ym, mode="markers", name=LEGEND_NAMES[1], xaxis="x", yaxis="y",
                         marker=dict(symbol="diamond", size=14, color=RED), legend="legend",
                         legendgroup="a2"))

# --- Ankle vs age ---
aw_x, aw_y = split(ANKLE_AGE_W, ANKLE_AGE_W_MORE)
am_x, am_y = split(ANKLE_AGE_M, ANKLE_AGE_M_MORE)
fig.add_trace(go.Scatter(x=aw_x, y=aw_y, mode="markers", name=LEGEND_NAMES[0], xaxis="x2", yaxis="y2",
                         marker=dict(symbol="star-diamond", size=SCATTER_SIZE, color=BLUE),
                         legend="legend2", legendgroup="b1"))
fig.add_trace(go.Scatter(x=am_x, y=am_y, mode="markers", name=LEGEND_NAMES[1], xaxis="x2", yaxis="y2",
                         marker=dict(symbol="star-diamond", size=SCATTER_SIZE, color=RED),
                         legend="legend2", legendgroup="b2"))
fig.add_trace(go.Scatter(x=ANKLE_TREND_W_X, y=ANKLE_TREND_W_Y, mode="lines", name=LEGEND_NAMES[2],
                         xaxis="x2", yaxis="y2", line=TREND_LINE, legend="legend2", legendgroup="b3"))
fig.add_trace(go.Scatter(x=ANKLE_TREND_M_X, y=ANKLE_TREND_M_Y, mode="lines", name=LEGEND_NAMES[3],
                         xaxis="x2", yaxis="y2", line=TREND_LINE, legend="legend2", legendgroup="b4"))

# --- Wrist sorted ---
xw, yw = curve(WRIST_W_LOW, WRIST_W_MID, WRIST_W_HIGH)
xm, ym = curve(WRIST_M_LOW, WRIST_M_MID, WRIST_M_HIGH)
fig.add_trace(go.Scatter(x=xw, y=yw, mode="markers", name=LEGEND_NAMES[0], xaxis="x3", yaxis="y3",
                         marker=dict(symbol="star-diamond", size=16, color=BLUE), legend="legend3",
                         legendgroup="c1"))
fig.add_trace(go.Scatter(x=xm, y=ym, mode="markers", name=LEGEND_NAMES[1], xaxis="x3", yaxis="y3",
                         marker=dict(symbol="star-diamond", size=16, color=RED), legend="legend3",
                         legendgroup="c2"))

# --- Wrist vs age ---
ww_x, ww_y = split(WRIST_AGE_W, WRIST_AGE_W_MORE)
wm_x, wm_y = split(WRIST_AGE_M, WRIST_AGE_M_MORE)
fig.add_trace(go.Scatter(x=ww_x, y=ww_y, mode="markers", name=LEGEND_NAMES[0], xaxis="x4", yaxis="y4",
                         marker=dict(symbol="star-diamond", size=SCATTER_SIZE, color=BLUE),
                         legend="legend4", legendgroup="d1"))
fig.add_trace(go.Scatter(x=wm_x, y=wm_y, mode="markers", name=LEGEND_NAMES[1], xaxis="x4", yaxis="y4",
                         marker=dict(symbol="star-diamond", size=SCATTER_SIZE, color=RED),
                         legend="legend4", legendgroup="d2"))
fig.add_trace(go.Scatter(x=WRIST_TREND_W_X, y=WRIST_TREND_W_Y, mode="lines", name=LEGEND_NAMES[2],
                         xaxis="x4", yaxis="y4", line=TREND_LINE, showlegend=False))
fig.add_trace(go.Scatter(x=WRIST_TREND_M_X, y=WRIST_TREND_M_Y, mode="lines", name=LEGEND_NAMES[3],
                         xaxis="x4", yaxis="y4", line=TREND_LINE, showlegend=False))

layout = dict(width=W, height=H, margin=dict(l=0, r=0, t=0, b=0, pad=0, autoexpand=False),
              paper_bgcolor="white", plot_bgcolor="rgba(0,0,0,0)",
              font=dict(family=FONT, size=37, color=TXT), showlegend=True)

xt = {1: (PCT_TICKS_A, PCT_LABELS_A), 2: (AGE_TICKS, AGE_LABELS),
      3: (PCT_TICKS_W, PCT_LABELS_W), 4: (AGE_TICKS, AGE_LABELS)}
yt = {1: (T_TICKS_A, T_LABELS_A), 2: (T_TICKS_A, T_LABELS_A),
      3: (T_TICKS_W, T_LABELS_W), 4: (T_TICKS_W, T_LABELS_W)}

for i, p in PANELS.items():
    sfx = "" if i == 1 else str(i)
    y0 = fy(p["py"][1])
    y1 = fy(p["py"][0])
    ymin, ymax = p["yr"]
    zero_pos = y0 + (0 - ymin) / (ymax - ymin) * (y1 - y0)
    layout["xaxis" + sfx] = dict(
        domain=[fx(p["px"][0]), fx(p["px"][1])], range=p["xr"], anchor="free", position=zero_pos,
        tickvals=xt[i][0], ticktext=xt[i][1], showgrid=False, zeroline=False, showline=False,
        ticks="", ticklabelstandoff=32, tickfont=tick_font, fixedrange=True, automargin=False)
    layout["yaxis" + sfx] = dict(
        domain=[y0, y1], range=p["yr"], anchor="x" + sfx, tickvals=yt[i][0], ticktext=yt[i][1],
        showgrid=True, gridcolor=GRID, gridwidth=2, zeroline=False, showline=True, linecolor=GRID,
        linewidth=2, ticks="", ticklabelstandoff=30, tickfont=tick_font, fixedrange=True,
        automargin=False)

leg_common = dict(xanchor="left", yanchor="top", bgcolor="rgba(0,0,0,0)", borderwidth=0,
                  font=dict(family=FONT, size=37, color=TXT), traceorder="grouped",
                  tracegroupgap=28)
layout["legend"] = dict(leg_common, x=fx(1369), y=fy(525 - 30), itemwidth=30)
layout["legend2"] = dict(leg_common, x=fx(2748), y=fy(448 - 30), itemwidth=90)
layout["legend3"] = dict(leg_common, x=fx(1377), y=fy(1585 - 30), itemwidth=30)
layout["legend4"] = dict(leg_common, x=fx(3046), y=fy(1581 - 30), itemwidth=30)

ann = []
for (cx, cy), t in zip([(819, 116), (2431, 110), (825, 1170), (2486, 1160)], TITLES):
    ann.append(dict(x=fx(cx), y=fy(cy), xref="paper", yref="paper", text="<b>%s</b>" % t,
                    showarrow=False, xanchor="center", yanchor="middle",
                    font=dict(family=FONT, size=70, color="black")))
for (cx, cy), t in zip([(760, 884), (2236, 888), (772, 1944), (2409, 1946)],
                       ["% population", "Age", "% population", "Age"]):
    ann.append(dict(x=fx(cx), y=fy(cy), xref="paper", yref="paper", text="<b>%s</b>" % t,
                    showarrow=False, xanchor="center", yanchor="middle",
                    font=dict(family=FONT, size=39, color=TXT)))
for (cx, cy) in [(130, 531), (1735, 537), (134, 1596), (1784, 1592)]:
    ann.append(dict(x=fx(cx), y=fy(cy), xref="paper", yref="paper", text="<b>T score</b>",
                    showarrow=False, xanchor="center", yanchor="middle", textangle=-90,
                    font=dict(family=FONT, size=38, color=TXT)))
ann.append(dict(x=fx(2492), y=fy(355), xref="paper", yref="paper", text=EQUATION, showarrow=False,
                xanchor="left", yanchor="middle", font=dict(family=FONT, size=38, color=TXT)))
ann.append(dict(x=fx(2571), y=fy(405), xref="paper", yref="paper", text=R2_TEXT, showarrow=False,
                xanchor="left", yanchor="middle", font=dict(family=FONT, size=38, color=TXT)))
layout["annotations"] = ann

shapes = []
for (x0, y0, x1, y1) in [(49, 36, 1587, 959), (1652, 30, 3220, 967),
                         (53, 1091, 1602, 2030), (1699, 1081, 3220, 2030)]:
    shapes.append(dict(type="rect", xref="paper", yref="paper", x0=fx(x0), x1=fx(x1),
                       y0=fy(y1), y1=fy(y0), line=dict(color="#8A8A8A", width=2),
                       fillcolor="rgba(0,0,0,0)", layer="below"))
layout["shapes"] = shapes

fig.update_layout(**layout)
fig.write_html("out.html")
